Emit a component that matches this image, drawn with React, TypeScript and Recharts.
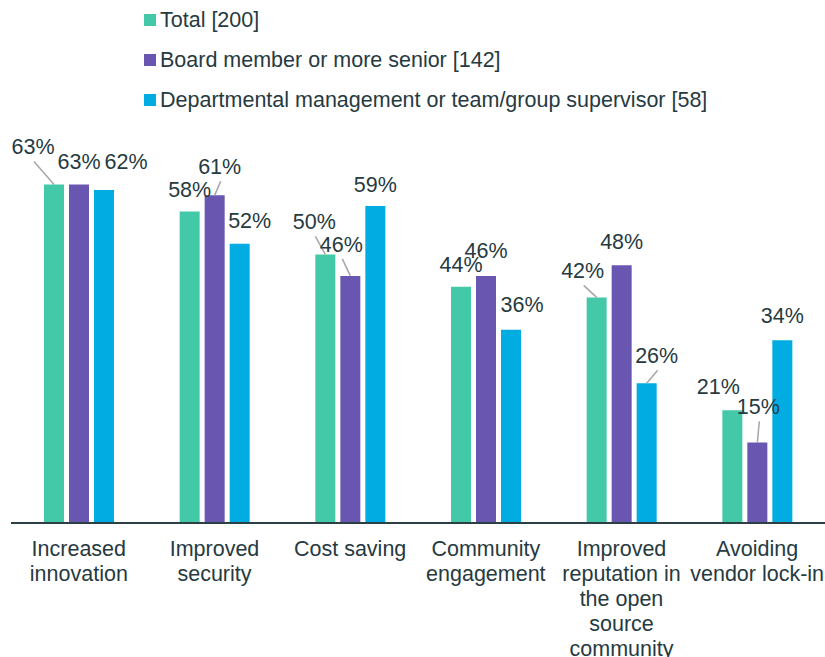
import React from 'react';
import { BarChart, Bar, XAxis, YAxis, LabelList } from 'recharts';

const categories = [
  'Increased innovation',
  'Improved security',
  'Cost saving',
  'Community engagement',
  'Improved reputation in the open source community',
  'Avoiding vendor lock-in',
];

// how the tick labels break over lines
const tickLines = [
  ['Increased', 'innovation'],
  ['Improved', 'security'],
  ['Cost saving'],
  ['Community', 'engagement'],
  ['Improved', 'reputation in', 'the open', 'source', 'community'],
  ['Avoiding', 'vendor lock-in'],
];

const total = [63, 58, 50, 44, 42, 21];
const board = [63, 61, 46, 46, 48, 15];
const dept = [62, 52, 59, 36, 26, 34];

const seriesNames = [
  'Total [200]',
  'Board member or more senior [142]',
  'Departmental management or team/group supervisor [58]',
];

const colors = ['#44C9A8', '#6856B0', '#00ACE2'];
const textColor = '#263A3F';
const font = '"Liberation Sans", Arial, sans-serif';

// label nudges [dx, dy, leader line]
const totalOffsets = [[-21, -16, 1], [0, 0, 0], [-11, -11, 1], [0, 0, 0], [-14, -5, 1], [-14, -2, 0]];
const boardOffsets = [[0, -1, 0], [5, -7, 1], [-9, -10, 1], [0, -4, 0], [0, -2, 0], [1, -14, 1]];
const deptOffsets = [[22, -7, 0], [10, -1, 0], [0, 0, 0], [11, -3, 0], [10, -6, 1], [0, -3, 0]];

const data = categories.map((name, i) => ({
  name,
  total: total[i],
  board: board[i],
  dept: dept[i],
}));

const makeLabel = (offsets: number[][]) => (props: any) => {
  const { x, y, width, value, index } = props;
  const [dx, dy, leader] = offsets[index] || [0, 0, 0];
  const cx = x + width / 2;
  const lx = cx + dx;
  const ly = y - 22 + dy;
  return (
    <g>
      {leader ? (
        <line x1={lx + 1} y1={ly + 15} x2={cx} y2={y} stroke="#A6A6A6" strokeWidth={1.5} />
      ) : null}
      <text
        x={lx}
        y={ly}
        dy="0.36em"
        textAnchor="middle"
        fill={textColor}
        fontSize={21.5}
        fontFamily={font}
      >
        {value}%
      </text>
    </g>
  );
};

const CategoryTick = (props: any) => {
  const { x, payload, index } = props;
  const lines = tickLines[index] || [payload.value];
  return (
    <g>
      {lines.map((ln, i) => (
        <text
          key={i}
          x={x}
          y={556 + i * 25}
          textAnchor="middle"
          fill={textColor}
          fontSize={21.5}
          fontFamily={font}
        >
          {ln}
        </text>
      ))}
    </g>
  );
};

const App: React.FC = () => {
  return (
    <div style={{ position: 'absolute', left: 0, top: 0, width: 825, height: 657, background: '#fff' }}>
      <BarChart
        width={825}
        height={657}
        data={data}
        margin={{ top: 147, right: 0, left: 11, bottom: 0 }}
        barSize={20}
        barGap={5}
      >
        <XAxis
          dataKey="name"
          height={134}
          interval={0}
          tickLine={false}
          axisLine={{ stroke: '#2B3F44', strokeWidth: 2 }}
          tick={<CategoryTick />}
        />
        <YAxis hide domain={[0, 70]} />
        <Bar dataKey="total" fill={colors[0]} isAnimationActive={false}>
          <LabelList dataKey="total" content={makeLabel(totalOffsets)} />
        </Bar>
        <Bar dataKey="board" fill={colors[1]} isAnimationActive={false}>
          <LabelList dataKey="board" content={makeLabel(boardOffsets)} />
        </Bar>
        <Bar dataKey="dept" fill={colors[2]} isAnimationActive={false}>
          <LabelList dataKey="dept" content={makeLabel(deptOffsets)} />
        </Bar>
      </BarChart>
      <div style={{ position: 'absolute', left: 144, top: 0, fontFamily: font, fontSize: 21.5, color: textColor }}>
        {seriesNames.map((n, i) => (
          <div key={n} style={{ display: 'flex', alignItems: 'center', height: 40, whiteSpace: 'nowrap' }}>
            <span style={{ display: 'inline-block', width: 12, height: 12, background: colors[i], marginRight: 4 }} />
            {n}
          </div>
        ))}
      </div>
    </div>
  );
};

export default App;
